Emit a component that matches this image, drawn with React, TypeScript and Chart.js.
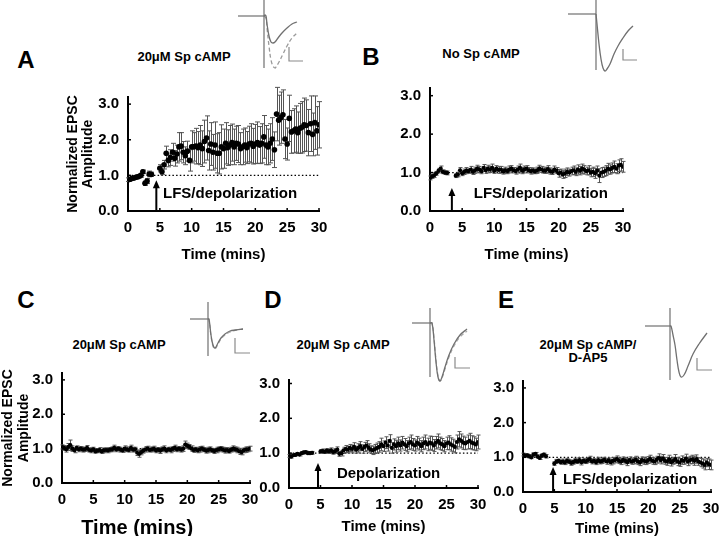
import React, { useEffect, useRef } from 'react';
import { Chart, registerables } from 'chart.js';

Chart.register(...registerables);

const FONT = '"Liberation Sans", Arial, Helvetica, sans-serif';

// ---------- data ----------
const SAMPLE_INTERVAL_MIN = 1 / 3; // one sweep every 20 s
const X_TICK_LABELS = ['0', '5', '10', '15', '20', '25', '30'];
const Y_TICK_LABELS = ['0.0', '1.0', '2.0', '3.0'];
const X_TITLE = 'Time (mins)';
const Y_TITLE = ['Normalized EPSC', 'Amplitude'];

const VALUES_A = [
  0.88, 0.89, 0.92, 0.93, 0.95, 0.97, 1.0, 1.1, 0.78, 0.84, 1.04, 1.03,
  null, null, null,
  1.2, 1.1, 1.3, 1.62, 1.42, 1.5, 1.65, 1.48, 1.6, 1.8,
  1.82, 1.65, 1.55, 1.68, 1.42, 1.8, 1.8, 1.82, 1.78, 1.85,
  1.75, 1.95, 2.05, 1.7, 1.88, 1.65, 1.85, 1.62, 1.62, 1.8,
  1.75, 1.9, 1.78, 1.85, 1.92, 1.8, 1.9, 1.88, 1.75, 1.8,
  1.85, 1.78, 1.88, 1.9, 1.82, 1.88, 1.92, 1.85, 1.9, 2.08,
  1.85, 1.8, 1.9, 2.02, 1.72, 2.72, 2.55, 2.62, 2.7, 2.02,
  1.88, 2.6, 2.22, 2.25, 2.3, 2.2, 2.32, 2.35, 2.42, 2.4,
  2.2, 2.45, 2.15, 2.48, 2.25, 2.42,
];
const ERRORS_A = [
  0.05, 0.04, 0.05, 0.04, 0.05, 0.04, 0.05, 0.05, 0.06, 0.07, 0.08, 0.06,
  null, null, null,
  0.1, 0.08, 0.12, 0.2, 0.18, 0.22, 0.25, 0.22, 0.25, 0.4,
  0.38, 0.3, 0.25, 0.28, 0.3, 0.45, 0.4, 0.5, 0.45, 0.55,
  0.5, 0.6, 0.62, 0.55, 0.6, 0.5, 0.65, 0.55, 0.58, 0.62,
  0.55, 0.58, 0.5, 0.55, 0.52, 0.5, 0.48, 0.52, 0.45, 0.5,
  0.48, 0.45, 0.5, 0.55, 0.5, 0.55, 0.58, 0.52, 0.55, 0.6,
  0.55, 0.5, 0.55, 0.6, 0.5, 0.75, 0.7, 0.72, 0.7, 0.55,
  0.45, 0.65, 0.6, 0.62, 0.65, 0.58, 0.7, 0.72, 0.75, 0.72,
  0.65, 0.78, 0.6, 0.75, 0.68, 0.65,
];

const VALUES_B = [
  0.86, 0.9, 0.93, 0.98, 1.05, 1.1, 1.02, 1.0, 0.99,
  null, null, null,
  0.92, 0.95, 1.06, 0.98, 1.02, 1.05, 1.04, 1.08, 1.02, 1.06,
  1.1, 1.08, 1.04, 1.12, 1.06, 1.1, 1.08, 1.12, 1.05, 1.1,
  1.07, 1.08, 1.03, 1.06, 1.04, 1.08, 1.1, 1.06, 1.04, 1.08,
  1.12, 1.05, 1.08, 1.1, 1.06, 1.04, 1.05, 1.03, 1.06, 1.1,
  1.08, 1.05, 1.06, 1.09, 1.04, 1.02, 1.08, 1.05, 0.98, 1.0,
  0.95, 0.98, 1.02, 1.0, 1.04, 1.06, 1.02, 1.08, 1.05, 1.1,
  1.07, 1.04, 1.06, 1.0, 1.02, 0.98, 1.05, 0.92, 1.0, 1.02,
  1.05, 1.1, 1.08, 1.12, 1.15, 1.1, 1.18, 1.2, 1.15,
];
const ERRORS_B = [
  0.05, 0.05, 0.06, 0.05, 0.06, 0.07, 0.05, 0.05, 0.05,
  null, null, null,
  0.05, 0.06, 0.07, 0.06, 0.07, 0.08, 0.06, 0.08, 0.07, 0.08,
  0.09, 0.08, 0.07, 0.09, 0.08, 0.09, 0.08, 0.1, 0.07, 0.08,
  0.09, 0.08, 0.07, 0.08, 0.07, 0.09, 0.08, 0.07, 0.08, 0.09,
  0.1, 0.08, 0.09, 0.08, 0.07, 0.08, 0.07, 0.06, 0.08, 0.09,
  0.08, 0.07, 0.08, 0.09, 0.08, 0.07, 0.09, 0.08, 0.1, 0.09,
  0.1, 0.11, 0.1, 0.09, 0.1, 0.11, 0.1, 0.12, 0.11, 0.12,
  0.11, 0.1, 0.12, 0.11, 0.12, 0.13, 0.12, 0.18, 0.13, 0.12,
  0.13, 0.14, 0.12, 0.13, 0.15, 0.13, 0.15, 0.16, 0.14,
];

const VALUES_C = [
  1.05, 1.02, 0.98, 1.05, 1.1, 1.0, 0.95, 1.02, 0.98, 1.0,
  0.97, 0.98, 1.02, 0.96, 0.95, 0.98, 0.92, 0.94, 0.96, 0.92,
  0.95, 0.96, 0.95, 0.97, 0.98, 1.02, 0.98, 1.0, 0.97, 0.95,
  1.0, 0.98, 0.96, 1.02, 0.97, 0.98, 0.88, 0.85, 0.9, 0.94,
  0.98, 1.0, 0.96, 0.98, 0.99, 0.95, 0.97, 0.94, 0.98, 1.0,
  0.95, 0.98, 0.96, 0.99, 1.02, 0.98, 1.0, 0.97, 1.0, 1.12,
  1.08, 1.05, 1.0, 0.96, 0.98, 0.95, 0.98, 1.0, 0.97, 0.94,
  0.96, 0.98, 0.95, 0.93, 0.96, 0.98, 1.0, 0.97, 0.95, 0.96,
  0.93, 0.97, 1.0, 0.98, 0.96, 0.92, 0.9, 0.95, 0.97, 0.98,
  1.0,
];
const ERRORS_C = [
  0.06, 0.07, 0.08, 0.1, 0.15, 0.08, 0.07, 0.06, 0.07, 0.06,
  0.07, 0.06, 0.07, 0.06, 0.07, 0.06, 0.05, 0.06, 0.07, 0.06,
  0.07, 0.06, 0.07, 0.06, 0.07, 0.08, 0.07, 0.06, 0.07, 0.06,
  0.08, 0.07, 0.06, 0.08, 0.07, 0.06, 0.08, 0.1, 0.08, 0.07,
  0.08, 0.07, 0.06, 0.07, 0.08, 0.07, 0.06, 0.08, 0.07, 0.08,
  0.07, 0.06, 0.08, 0.07, 0.08, 0.07, 0.06, 0.07, 0.08, 0.1,
  0.08, 0.07, 0.08, 0.07, 0.06, 0.07, 0.08, 0.07, 0.06, 0.07,
  0.08, 0.07, 0.06, 0.07, 0.08, 0.07, 0.06, 0.07, 0.08, 0.07,
  0.06, 0.07, 0.08, 0.07, 0.08, 0.09, 0.08, 0.07, 0.08, 0.07,
  0.07,
];

const VALUES_D = [
  0.92, 0.9, 0.94, 0.95, 0.98, 0.96, 1.0, 1.02, 1.03, 1.0, 1.0, 1.01,
  null, null, null,
  1.05, 1.06, 1.04, 1.07, 1.05, 1.08, 1.03, 1.06, 1.1, 0.98,
  1.0, 1.08, 1.12, 1.1, 1.15, 1.12, 1.18, 1.1, 1.15, 1.2,
  1.12, 1.18, 1.22, 1.15, 1.1, 1.08, 1.12, 1.15, 1.18, 1.25,
  1.2, 1.3, 1.22, 1.35, 1.15, 1.25, 1.2, 1.28, 1.22, 1.3,
  1.25, 1.2, 1.28, 1.32, 1.25, 1.22, 1.3, 1.26, 1.2, 1.28,
  1.32, 1.25, 1.3, 1.28, 1.22, 1.3, 1.35, 1.28, 1.25, 1.2,
  1.28, 1.3, 1.25, 1.22, 1.18, 1.32, 1.4, 1.35, 1.3, 1.28,
  1.32, 1.35, 1.3, 1.28, 1.25, 1.32,
];
const ERRORS_D = [
  0.04, 0.04, 0.03, 0.04, 0.03, 0.04, 0.03, 0.04, 0.03, 0.04, 0.03, 0.04,
  null, null, null,
  0.05, 0.06, 0.05, 0.06, 0.05, 0.07, 0.06, 0.07, 0.08, 0.07,
  0.08, 0.09, 0.1, 0.09, 0.1, 0.11, 0.12, 0.1, 0.12, 0.13,
  0.12, 0.13, 0.14, 0.12, 0.11, 0.12, 0.13, 0.14, 0.15, 0.18,
  0.15, 0.17, 0.16, 0.18, 0.15, 0.16, 0.17, 0.18, 0.16, 0.18,
  0.17, 0.16, 0.18, 0.2, 0.17, 0.16, 0.18, 0.17, 0.16, 0.18,
  0.2, 0.18, 0.19, 0.2, 0.17, 0.18, 0.2, 0.18, 0.17, 0.16,
  0.18, 0.2, 0.19, 0.18, 0.17, 0.2, 0.22, 0.2, 0.19, 0.18,
  0.2, 0.22, 0.2, 0.19, 0.18, 0.2,
];

const VALUES_E = [
  1.08, 1.05, 1.06, 1.03, 1.0, 1.08, 1.1, 1.02, 0.98, 1.05, 1.08, 1.03,
  null, null, null,
  0.82, 0.88, 0.9, 0.86, 0.88, 0.85, 0.9, 0.88, 0.84, 0.86,
  0.9, 0.88, 0.92, 0.86, 0.9, 0.88, 0.92, 0.95, 0.88, 0.9,
  0.86, 0.92, 0.88, 0.9, 0.93, 0.88, 0.91, 0.86, 0.9, 0.92,
  0.95, 0.9, 0.88, 0.93, 0.9, 0.86, 0.92, 0.88, 0.9, 0.93,
  0.88, 0.86, 0.92, 0.9, 0.88, 0.92, 0.95, 0.9, 0.88, 0.93,
  0.98, 0.92, 0.96, 0.9, 0.88, 0.94, 0.86, 0.9, 0.95, 0.88,
  0.85, 0.92, 0.9, 0.96, 0.88, 0.92, 0.94, 0.9, 0.95, 0.88,
  0.85, 0.82, 0.78, 0.85, 0.8, 0.78,
];
const ERRORS_E = [
  0.04, 0.05, 0.04, 0.05, 0.04, 0.05, 0.04, 0.05, 0.04, 0.05, 0.04, 0.05,
  null, null, null,
  0.05, 0.06, 0.05, 0.06, 0.07, 0.06, 0.07, 0.06, 0.07, 0.06,
  0.07, 0.06, 0.07, 0.08, 0.07, 0.06, 0.07, 0.08, 0.07, 0.06,
  0.07, 0.08, 0.07, 0.08, 0.07, 0.08, 0.07, 0.08, 0.09, 0.08,
  0.09, 0.08, 0.09, 0.08, 0.09, 0.1, 0.09, 0.08, 0.09, 0.1,
  0.09, 0.1, 0.09, 0.1, 0.09, 0.1, 0.11, 0.1, 0.09, 0.1,
  0.12, 0.11, 0.12, 0.1, 0.11, 0.12, 0.11, 0.1, 0.13, 0.12,
  0.11, 0.12, 0.1, 0.13, 0.12, 0.11, 0.12, 0.13, 0.12, 0.11,
  0.12, 0.13, 0.14, 0.12, 0.15, 0.14,
];

// EPSC example traces (time in ms from stimulus, current in pA)
const TRACE_A_BASE_T = [-26, 0];
const TRACE_A_ARTIFACT = [16, -52];
const TRACE_A_SOLID_T = [0, 1, 2, 3, 5, 7, 9, 11, 14, 18, 23, 28, 33];
const TRACE_A_SOLID_I = [0, 1, 0, -8, -20, -26, -27, -26, -22, -17, -12, -8, -6];
const TRACE_A_DASH_T = [0, 2, 3, 5, 7, 9, 11, 12, 15, 19, 23, 28, 34];
const TRACE_A_DASH_I = [0, -2, -12, -30, -44, -50, -52, -51, -46, -38, -30, -22, -16];
const TRACE_A_BAR_T = [25, 25, 39];
const TRACE_A_BAR_I = [-31, -45, -45];

const TRACE_B_BASE_T = [-28, 0];
const TRACE_B_ARTIFACT = [14, -56];
const TRACE_B_SOLID_T = [0, 1, 3, 5, 7, 9, 11, 14, 18, 22, 27, 32, 37];
const TRACE_B_SOLID_I = [0, -10, -30, -45, -54, -57, -55, -50, -40, -32, -24, -17, -12];
const TRACE_B_BAR_T = [27, 27, 41];
const TRACE_B_BAR_I = [-35, -46, -46];

const TRACE_C_BASE_T = [-18, 0];
const TRACE_C_ARTIFACT = [17, -37];
const TRACE_C_SOLID_T = [0, 1, 3, 5, 7, 10, 13, 17, 22, 28, 35];
const TRACE_C_SOLID_I = [0, 0, -16, -26, -29, -24, -19, -15, -12, -11, -10];
const TRACE_C_DASH_I = [0, 0, -17, -27, -30, -25, -20, -16, -13, -11, -10];
const TRACE_C_BAR_T = [27, 27, 42];
const TRACE_C_BAR_I = [-19, -34, -34];

const TRACE_D_BASE_T = [-18, 0];
const TRACE_D_ARTIFACT = [15, -54];
const TRACE_D_SOLID_T = [0, 2, 4, 6, 8, 10, 12, 15, 19, 24, 30, 37];
const TRACE_D_SOLID_I = [0, 0, -17, -39, -54, -58, -54, -44, -32, -21, -12, -6];
const TRACE_D_DASH_I = [0, 0, -15, -37, -53, -58, -55, -46, -34, -23, -14, -8];
const TRACE_D_BAR_T = [25, 25, 40];
const TRACE_D_BAR_I = [-34, -45, -45];

const TRACE_E_BASE_T = [-25, 0];
const TRACE_E_ARTIFACT = [18, -54];
const TRACE_E_SOLID_T = [0, 1, 3, 5, 7, 9, 11, 14, 18, 23, 29, 37];
const TRACE_E_SOLID_I = [0, 0, -9, -19, -34, -46, -51, -49, -40, -28, -18, -7];
const TRACE_E_BAR_T = [27, 27, 42];
const TRACE_E_BAR_I = [-32, -44, -44];

// ---------- panel configs ----------
type Box = { left: number; top: number; width: number; height: number };
type PanelCfg = {
  box: Box;
  area: { left: number; top: number; right: number; bottom: number };
  yMax: number;
  values: (number | null)[];
  errors: (number | null)[];
  radius: number;
  cap: number;
  tickSize: number;
  xTitleSize: number;
  xTitleLH: number;
  xTitlePad: number;
  xTitleManual?: { at: number; y: number };
  yTitle?: string[];
  yTitleSize?: number;
  yTitleLH?: number;
  yTitlePad?: number;
  arrow?: { x: number; tip: number };
  note?: { x: number; y: number; text: string; size: number };
};

const PANELS: PanelCfg[] = [
  {
    box: { left: 50, top: 85, width: 285, height: 190 },
    area: { left: 78, top: 12, right: 269, bottom: 126 },
    yMax: 3.2, values: VALUES_A, errors: ERRORS_A, radius: 2.8, cap: 2.5,
    tickSize: 15, xTitleSize: 15, xTitleLH: 18, xTitlePad: 11,
    yTitle: Y_TITLE, yTitleSize: 14, yTitleLH: 15, yTitlePad: 16,
    arrow: { x: 4.45, tip: 0.86 },
    note: { x: 5.5, y: 0.47, text: 'LFS/depolarization', size: 15 },
  },
  {
    box: { left: 380, top: 80, width: 262, height: 195 },
    area: { left: 50, top: 8, right: 243, bottom: 131 },
    yMax: 3.2, values: VALUES_B, errors: ERRORS_B, radius: 2.1, cap: 2,
    tickSize: 15, xTitleSize: 15, xTitleLH: 18, xTitlePad: 11,
    arrow: { x: 3.4, tip: 0.6 },
    note: { x: 6.8, y: 0.44, text: 'LFS/depolarization', size: 15 },
  },
  {
    box: { left: 0, top: 360, width: 265, height: 176 },
    area: { left: 62, top: 13, right: 250, bottom: 123 },
    yMax: 3.2, values: VALUES_C, errors: ERRORS_C, radius: 2.1, cap: 2,
    tickSize: 15, xTitleSize: 20, xTitleLH: 16, xTitlePad: 0,
    xTitleManual: { at: 12, y: 168 },
    yTitle: Y_TITLE, yTitleSize: 14, yTitleLH: 16, yTitlePad: 0,
  },
  {
    box: { left: 255, top: 370, width: 235, height: 166 },
    area: { left: 34, top: 10, right: 223, bottom: 118 },
    yMax: 3.1, values: VALUES_D, errors: ERRORS_D, radius: 2.1, cap: 2,
    tickSize: 15, xTitleSize: 15, xTitleLH: 18, xTitlePad: 0,
    arrow: { x: 4.6, tip: 0.72 },
    note: { x: 7.6, y: 0.4, text: 'Depolarization', size: 15 },
  },
  {
    box: { left: 490, top: 370, width: 230, height: 166 },
    area: { left: 33, top: 11, right: 221, bottom: 122 },
    yMax: 3.2, values: VALUES_E, errors: ERRORS_E, radius: 2.1, cap: 2,
    tickSize: 15, xTitleSize: 15, xTitleLH: 14, xTitlePad: 0,
    arrow: { x: 4.8, tip: 0.72 },
    note: { x: 6.4, y: 0.35, text: 'LFS/depolarization', size: 15 },
  },
];

type TraceCfg = {
  box: Box;
  x: [number, number];
  y: [number, number];
  baseT: number[];
  artifact: number[];
  t: number[];
  solid: number[];
  dashT?: number[];
  dash?: number[];
  dashColor?: string;
  barT: number[];
  barI: number[];
};

const TRACES: TraceCfg[] = [
  {
    box: { left: 236, top: 0, width: 72, height: 72 }, x: [-28, 44], y: [-56, 16],
    baseT: TRACE_A_BASE_T, artifact: TRACE_A_ARTIFACT, t: TRACE_A_SOLID_T, solid: TRACE_A_SOLID_I,
    dashT: TRACE_A_DASH_T, dash: TRACE_A_DASH_I, dashColor: '#9a9a9a',
    barT: TRACE_A_BAR_T, barI: TRACE_A_BAR_I,
  },
  {
    box: { left: 566, top: 0, width: 76, height: 74 }, x: [-30, 46], y: [-60, 14],
    baseT: TRACE_B_BASE_T, artifact: TRACE_B_ARTIFACT, t: TRACE_B_SOLID_T, solid: TRACE_B_SOLID_I,
    barT: TRACE_B_BAR_T, barI: TRACE_B_BAR_I,
  },
  {
    box: { left: 186, top: 298, width: 68, height: 62 }, x: [-22, 46], y: [-41, 21],
    baseT: TRACE_C_BASE_T, artifact: TRACE_C_ARTIFACT, t: TRACE_C_SOLID_T, solid: TRACE_C_SOLID_I,
    dashT: TRACE_C_SOLID_T, dash: TRACE_C_DASH_I, dashColor: '#aaaaaa',
    barT: TRACE_C_BAR_T, barI: TRACE_C_BAR_I,
  },
  {
    box: { left: 410, top: 305, width: 64, height: 80 }, x: [-20, 44], y: [-62, 18],
    baseT: TRACE_D_BASE_T, artifact: TRACE_D_ARTIFACT, t: TRACE_D_SOLID_T, solid: TRACE_D_SOLID_I,
    dashT: TRACE_D_SOLID_T, dash: TRACE_D_DASH_I, dashColor: '#aaaaaa',
    barT: TRACE_D_BAR_T, barI: TRACE_D_BAR_I,
  },
  {
    box: { left: 642, top: 305, width: 74, height: 80 }, x: [-28, 46], y: [-59, 21],
    baseT: TRACE_E_BASE_T, artifact: TRACE_E_ARTIFACT, t: TRACE_E_SOLID_T, solid: TRACE_E_SOLID_I,
    barT: TRACE_E_BAR_T, barI: TRACE_E_BAR_I,
  },
];

const LETTERS = [
  { text: 'A', x: 26, y: 60 },
  { text: 'B', x: 371, y: 57 },
  { text: 'C', x: 26, y: 300 },
  { text: 'D', x: 273, y: 300 },
  { text: 'E', x: 506, y: 300 },
];
const TITLES = [
  { lines: ['20μM Sp cAMP'], x: 184, y: 56 },
  { lines: ['No Sp cAMP'], x: 481, y: 53 },
  { lines: ['20μM Sp cAMP'], x: 119, y: 344 },
  { lines: ['20μM Sp cAMP'], x: 343, y: 344 },
  { lines: ['20μM Sp cAMP/', 'D-AP5'], x: 588, y: 351 },
];

// ---------- components ----------
function Panel({ cfg }: { cfg: PanelCfg }) {
  const ref = useRef<HTMLCanvasElement | null>(null);
  useEffect(() => {
    const c = cfg;
    const pts: { x: number; y: number; e: number }[] = [];
    c.values.forEach((v, i) => {
      if (v != null) pts.push({ x: i * SAMPLE_INTERVAL_MIN, y: v, e: c.errors[i] ?? 0 });
    });
    const overlay = {
      id: 'overlay',
      beforeDatasetsDraw(chart: any) {
        const { ctx, scales } = chart;
        const xs = scales.x, ys = scales.y;
        ctx.save();
        // dotted baseline at 1.0
        ctx.strokeStyle = '#000';
        ctx.lineWidth = 1.2;
        ctx.setLineDash([1.5, 2.2]);
        ctx.beginPath();
        ctx.moveTo(xs.getPixelForValue(0), ys.getPixelForValue(1));
        ctx.lineTo(xs.getPixelForValue(30), ys.getPixelForValue(1));
        ctx.stroke();
        ctx.setLineDash([]);
        // error bars
        ctx.strokeStyle = '#555';
        ctx.lineWidth = 1;
        pts.forEach((p) => {
          const px = Math.round(xs.getPixelForValue(p.x)) + 0.5;
          const y1 = ys.getPixelForValue(p.y + p.e);
          const y2 = ys.getPixelForValue(p.y - p.e);
          ctx.beginPath();
          ctx.moveTo(px, y1);
          ctx.lineTo(px, y2);
          ctx.moveTo(px - c.cap, y1);
          ctx.lineTo(px + c.cap, y1);
          ctx.moveTo(px - c.cap, y2);
          ctx.lineTo(px + c.cap, y2);
          ctx.stroke();
        });
        ctx.restore();
      },
      afterDatasetsDraw(chart: any) {
        const { ctx, scales } = chart;
        const xs = scales.x, ys = scales.y;
        ctx.save();
        ctx.strokeStyle = '#000';
        ctx.lineWidth = 1.5;
        // inward tick marks
        const y0 = ys.getPixelForValue(0);
        const x0 = xs.getPixelForValue(0);
        xs.ticks.forEach((t: any) => {
          if (t.value === 0) return;
          const px = xs.getPixelForValue(t.value);
          ctx.beginPath();
          ctx.moveTo(px, y0);
          ctx.lineTo(px, y0 - 3);
          ctx.stroke();
        });
        ys.ticks.forEach((t: any) => {
          if (t.value === 0) return;
          const py = ys.getPixelForValue(t.value);
          ctx.beginPath();
          ctx.moveTo(x0, py);
          ctx.lineTo(x0 + 3, py);
          ctx.stroke();
        });
        if (c.arrow) {
          const ax = xs.getPixelForValue(c.arrow.x);
          const tip = ys.getPixelForValue(c.arrow.tip);
          ctx.lineWidth = 2;
          ctx.beginPath();
          ctx.moveTo(ax, y0);
          ctx.lineTo(ax, tip + 5);
          ctx.stroke();
          ctx.fillStyle = '#000';
          ctx.beginPath();
          ctx.moveTo(ax, tip);
          ctx.lineTo(ax - 3.5, tip + 8);
          ctx.lineTo(ax + 3.5, tip + 8);
          ctx.closePath();
          ctx.fill();
        }
        if (c.note) {
          ctx.fillStyle = '#000';
          ctx.font = `bold ${c.note.size}px ${FONT}`;
          ctx.textAlign = 'left';
          ctx.textBaseline = 'middle';
          ctx.fillText(c.note.text, xs.getPixelForValue(c.note.x), ys.getPixelForValue(c.note.y));
        }
        if (c.xTitleManual) {
          ctx.fillStyle = '#000';
          ctx.font = `bold ${c.xTitleSize}px ${FONT}`;
          ctx.textAlign = 'center';
          ctx.textBaseline = 'middle';
          ctx.fillText(X_TITLE, xs.getPixelForValue(c.xTitleManual.at), c.xTitleManual.y);
        }
        ctx.restore();
      },
    };
    const chart = new Chart(ref.current as HTMLCanvasElement, {
      type: 'scatter',
      data: {
        datasets: [
          {
            data: pts,
            pointRadius: c.radius,
            pointHoverRadius: c.radius,
            backgroundColor: '#000',
            borderColor: '#000',
            borderWidth: 0,
          },
        ],
      },
      options: {
        animation: false,
        responsive: false,
        events: [],
        layout: { padding: 0 },
        plugins: { legend: { display: false }, tooltip: { enabled: false } },
        scales: {
          x: {
            type: 'linear',
            min: 0,
            max: 30,
            grid: { display: false, drawTicks: false },
            border: { display: true, color: '#000', width: 2 },
            ticks: {
              stepSize: 5,
              autoSkip: false,
              maxRotation: 0,
              padding: 8,
              color: '#000',
              font: { family: FONT, size: c.tickSize, weight: 'bold' },
              callback: (v: any) => X_TICK_LABELS[Math.round(Number(v) / 5)] ?? '',
            },
            title: {
              display: !c.xTitleManual,
              text: X_TITLE,
              color: '#000',
              font: { family: FONT, size: c.xTitleSize, weight: 'bold', lineHeight: `${c.xTitleLH}px` },
              padding: { top: 0, bottom: c.xTitlePad },
            },
            afterFit: (s: any) => {
              s.height = c.box.height - c.area.bottom;
              s.paddingLeft = 0;
              s.paddingRight = c.box.width - c.area.right;
            },
          },
          y: {
            type: 'linear',
            min: 0,
            max: c.yMax,
            grid: { display: false, drawTicks: false },
            border: { display: true, color: '#000', width: 2 },
            ticks: {
              stepSize: 1,
              includeBounds: false,
              padding: 9,
              color: '#000',
              font: { family: FONT, size: c.tickSize, weight: 'bold' },
              callback: (v: any) => Y_TICK_LABELS[Math.round(Number(v))] ?? '',
            },
            title: {
              display: !!c.yTitle,
              text: c.yTitle || '',
              color: '#000',
              font: { family: FONT, size: c.yTitleSize || 14, weight: 'bold', lineHeight: `${c.yTitleLH || 16}px` },
              padding: { top: c.yTitlePad || 0, bottom: 0 },
            },
            afterFit: (s: any) => {
              s.width = c.area.left;
              s.paddingTop = c.area.top;
              s.paddingBottom = 0;
            },
          },
        },
      } as any,
      plugins: [overlay],
    });
    return () => chart.destroy();
  }, [cfg]);
  return (
    <canvas
      ref={ref}
      width={cfg.box.width}
      height={cfg.box.height}
      style={{ position: 'absolute', left: cfg.box.left, top: cfg.box.top, width: cfg.box.width, height: cfg.box.height }}
    />
  );
}

function Trace({ cfg }: { cfg: TraceCfg }) {
  const ref = useRef<HTMLCanvasElement | null>(null);
  useEffect(() => {
    const c = cfg;
    const line = (xs: number[], ys: number[]) => xs.map((x, i) => ({ x, y: ys[i] }));
    const grey = '#707070';
    const datasets: any[] = [
      { data: line(c.baseT, [0, 0]), borderColor: grey, borderWidth: 1.2, tension: 0 },
      { data: line([0, 0], c.artifact), borderColor: grey, borderWidth: 1.2, tension: 0 },
      { data: line(c.t, c.solid), borderColor: grey, borderWidth: 1.3, tension: 0.4 },
      { data: line(c.barT, c.barI), borderColor: '#8a8a8a', borderWidth: 1.2, tension: 0 },
    ];
    if (c.dash && c.dashT) {
      datasets.push({
        data: line(c.dashT, c.dash),
        borderColor: c.dashColor || '#999',
        borderWidth: 1.3,
        borderDash: [4, 2.5],
        tension: 0.4,
      });
    }
    datasets.forEach((d) => {
      d.showLine = true;
      d.pointRadius = 0;
      d.fill = false;
    });
    const chart = new Chart(ref.current as HTMLCanvasElement, {
      type: 'scatter',
      data: { datasets },
      options: {
        animation: false,
        responsive: false,
        events: [],
        layout: { padding: 0 },
        plugins: { legend: { display: false }, tooltip: { enabled: false } },
        scales: {
          x: { type: 'linear', display: false, min: c.x[0], max: c.x[1] },
          y: { type: 'linear', display: false, min: c.y[0], max: c.y[1] },
        },
      } as any,
    });
    return () => chart.destroy();
  }, [cfg]);
  return (
    <canvas
      ref={ref}
      width={cfg.box.width}
      height={cfg.box.height}
      style={{ position: 'absolute', left: cfg.box.left, top: cfg.box.top, width: cfg.box.width, height: cfg.box.height }}
    />
  );
}

export default function App() {
  return (
    <div style={{ position: 'fixed', left: 0, top: 0, width: 720, height: 536, background: '#fff', overflow: 'hidden', fontFamily: FONT }}>
      {TRACES.map((t, i) => (
        <Trace key={'t' + i} cfg={t} />
      ))}
      {PANELS.map((p, i) => (
        <Panel key={'p' + i} cfg={p} />
      ))}
      {LETTERS.map((l) => (
        <div
          key={l.text}
          style={{ position: 'absolute', left: l.x, top: l.y, transform: 'translate(-50%, -50%)', fontSize: 24, fontWeight: 'bold', lineHeight: 1, color: '#000' }}
        >
          {l.text}
        </div>
      ))}
      {TITLES.map((t, i) => (
        <div
          key={'h' + i}
          style={{ position: 'absolute', left: t.x, top: t.y, transform: 'translate(-50%, -50%)', fontSize: 13, fontWeight: 'bold', lineHeight: '13px', color: '#000', textAlign: 'center', whiteSpace: 'nowrap' }}
        >
          {t.lines.map((ln, j) => (
            <div key={j}>{ln}</div>
          ))}
        </div>
      ))}
    </div>
  );
}
